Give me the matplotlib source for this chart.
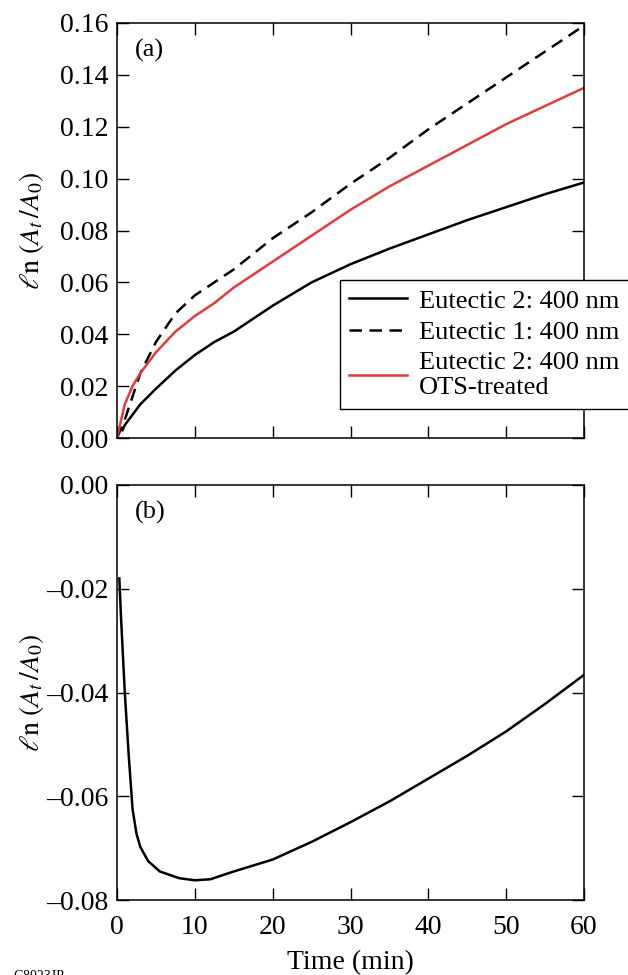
import matplotlib
matplotlib.use("Agg")
import matplotlib.pyplot as plt

plt.rcParams['font.family'] = ['Liberation Serif', 'DejaVu Serif']
plt.rcParams['mathtext.fontset'] = 'stix'

# ---- data ----
t_e1 = [0, 1, 2, 3, 5, 7.5, 10, 12.5, 15, 20, 25, 30, 35, 40, 45, 50, 55, 60]
y_e1 = [0, 0.007, 0.016, 0.025, 0.037, 0.048, 0.055, 0.060, 0.065, 0.077,
        0.087, 0.098, 0.108, 0.119, 0.129, 0.139, 0.149, 0.159]

t_ots = [0, 1, 2, 3, 5, 7.5, 10, 12.5, 15, 20, 25, 30, 35, 40, 45, 50, 55, 60]
y_ots = [0, 0.013, 0.020, 0.025, 0.033, 0.041, 0.047, 0.052, 0.058, 0.068,
         0.078, 0.088, 0.097, 0.105, 0.113, 0.121, 0.128, 0.135]

t_e2 = [0.7, 1, 2, 3, 5, 7.5, 10, 12.5, 15, 20, 25, 30, 35, 40, 45, 50, 55, 60]
y_e2 = [0.003, 0.005, 0.009, 0.013, 0.019, 0.026, 0.032, 0.037, 0.041, 0.051,
        0.060, 0.067, 0.073, 0.0785, 0.084, 0.089, 0.094, 0.0985]

t_b = [0.3, 0.5, 1.0, 1.5, 2.0, 2.5, 3.0, 4.0, 5.5, 8, 10, 12, 15, 20, 25,
       30, 35, 40, 45, 50, 55, 60]
y_b = [-0.018, -0.025, -0.040, -0.052, -0.0625, -0.0672, -0.0698, -0.0725,
       -0.0745, -0.0758, -0.0762, -0.0760, -0.0745, -0.0722, -0.0688,
       -0.065, -0.061, -0.0566, -0.0522, -0.0475, -0.0422, -0.0366]

labels = ['Eutectic 2: 400 nm', 'Eutectic 1: 400 nm', 'Eutectic 2: 400 nm\nOTS-treated']
xticks = [0, 10, 20, 30, 40, 50, 60]
yticks_a = [0.00, 0.02, 0.04, 0.06, 0.08, 0.10, 0.12, 0.14, 0.16]
yticks_b = [0.00, -0.02, -0.04, -0.06, -0.08]

W, H = 628, 975
fig = plt.figure(figsize=(W / 100, H / 100), dpi=100)

def ax_rect(l, r, t, b):
    return [l / W, 1 - b / H, (r - l) / W, (b - t) / H]

axa = fig.add_axes(ax_rect(117, 584, 23, 438))
axb = fig.add_axes(ax_rect(117, 584, 485, 900))

red = '#e03c3c'
lw = 1.8
axa.plot(t_e2, y_e2, color='black', lw=lw, label=labels[0])
axa.plot(t_e1, y_e1, color='black', lw=lw, linestyle=(0, (5, 3)), label=labels[1])
axa.plot(t_ots, y_ots, color=red, lw=lw, label=labels[2])
axb.plot(t_b, y_b, color='black', lw=lw)

fs = 20
ylabel = r'$\ell\mathrm{n}\ (A_t\,/A_0)$'
for ax in (axa, axb):
    ax.set_xlim(0, 60)
    ax.set_xticks(xticks)
    ax.tick_params(direction='in', length=8.5, width=1, top=True, right=True,
                   labelsize=fs)
    ax.tick_params(axis='y', pad=6)
    ax.tick_params(axis='x', pad=11)
    for s in ax.spines.values():
        s.set_linewidth(1.1)
    ax.set_ylabel(ylabel, fontsize=fs)
    ax.yaxis.set_label_coords(-0.152, 0.5)

axa.set_ylim(0, 0.16)
axa.set_yticks(yticks_a)
axa.set_yticklabels(['%.2f' % v for v in yticks_a])
axa.tick_params(labelbottom=False)

axb.set_ylim(-0.08, 0.0)
axb.set_yticks(yticks_b)
axb.set_yticklabels(['0.00'] + ['\u2013%.2f' % abs(v) for v in yticks_b[1:]])
axb.set_xlabel('Time (min)', fontsize=fs, labelpad=7)

axa.text(0.038, 0.935, '(a)', transform=axa.transAxes, fontsize=19, va='center')
axb.text(0.038, 0.935, '(b)', transform=axb.transAxes, fontsize=19, va='center')

leg = axa.legend(loc='upper left', bbox_to_anchor=(0.4775, 0.381), borderaxespad=0,
                 fontsize=19, frameon=True, fancybox=False, edgecolor='black',
                 framealpha=1, handlelength=2.2, handletextpad=0.45,
                 labelspacing=0.3, borderpad=0.35)
leg.get_frame().set_linewidth(1.0)
leg.set_clip_on(False)

fig.text(13 / W, 1 - 970 / H, 'G8023JP', fontsize=10, va='top', ha='left')

fig.savefig('out.png', dpi=100)
